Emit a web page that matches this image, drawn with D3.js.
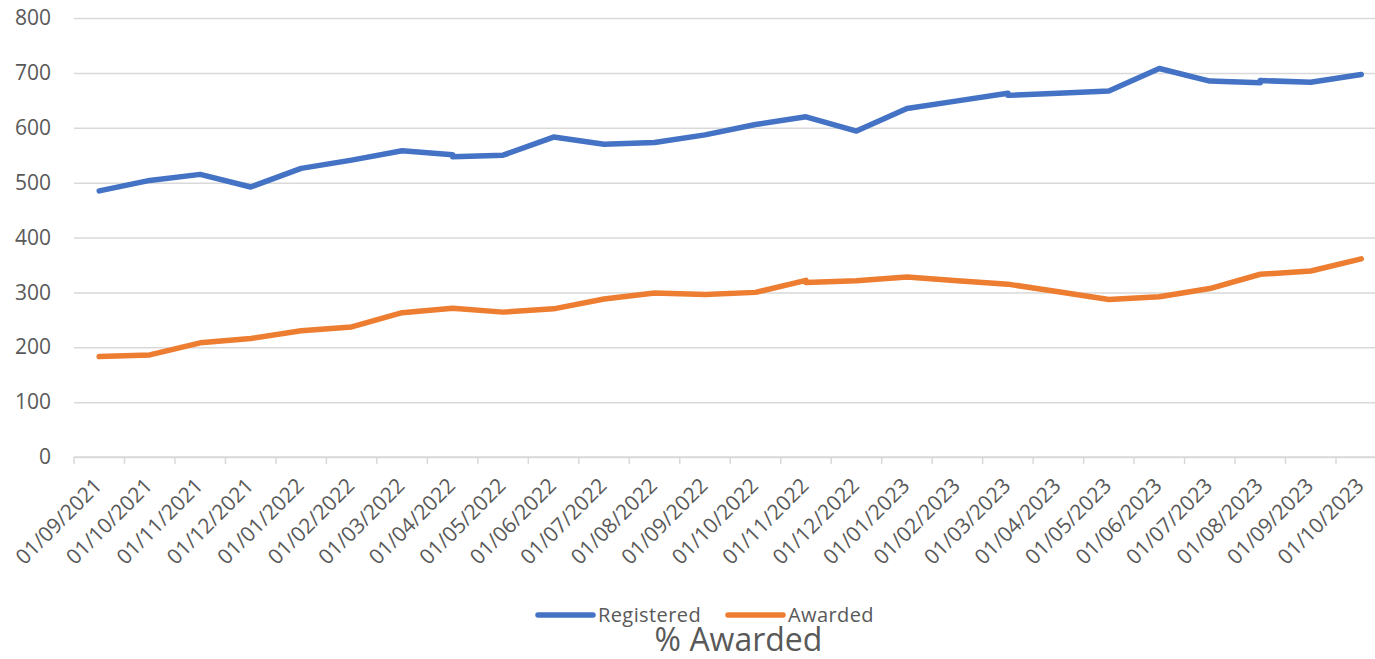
<!DOCTYPE html>
<html>
<head>
<meta charset="utf-8">
<script src="https://cdn.jsdelivr.net/npm/d3@7"></script>
<style>
  html, body { margin: 0; padding: 0; background: #fff; overflow: hidden; }
  svg { display: block; font-family: "Open Sans", sans-serif; }
</style>
</head>
<body>
<div id="chart"></div>
<script>
// month categories shown on the axis
const months = [
  "01/09/2021", "01/10/2021", "01/11/2021", "01/12/2021", "01/01/2022", "01/02/2022",
  "01/03/2022", "01/04/2022", "01/05/2022", "01/06/2022", "01/07/2022", "01/08/2022",
  "01/09/2022", "01/10/2022", "01/11/2022", "01/12/2022", "01/01/2023", "01/02/2023",
  "01/03/2023", "01/04/2023", "01/05/2023", "01/06/2023", "01/07/2023", "01/08/2023",
  "01/09/2023", "01/10/2023"
];

// data rows (some months have two entries)
const dates = [
  "01/09/2021", "01/10/2021", "01/11/2021", "01/12/2021", "01/01/2022", "01/02/2022",
  "01/03/2022", "01/04/2022", "01/04/2022", "01/05/2022", "01/06/2022", "01/07/2022",
  "01/08/2022", "01/09/2022", "01/10/2022", "01/11/2022", "01/11/2022", "01/12/2022",
  "01/01/2023", "01/02/2023", "01/03/2023", "01/03/2023", "01/04/2023", "01/05/2023",
  "01/06/2023", "01/07/2023", "01/08/2023", "01/08/2023", "01/09/2023", "01/10/2023"
];
const registered = [
  485, 504, 515, 492, 526, 541,
  558, 551, 547, 550, 583, 570,
  573, 587, 606, 620, 620, 594,
  635, 649, 663, 659, 663, 667,
  708, 685, 682, 686, 683, 697
];
const awarded = [
  183, 186, 208, 216, 230, 237,
  263, 271, 271, 264, 270, 288,
  299, 296, 300, 322, 318, 321,
  328, 321, 315, 315, 301, 287,
  292, 307, 333, 333, 339, 361
];
const yTicks = [0, 100, 200, 300, 400, 500, 600, 700, 800];

const seriesNames = ["Registered", "Awarded"];
const seriesColors = ["#4472C4", "#ED7D31"];
const title = "% Awarded";

const width = 1375, height = 659;
const plotLeft = 74, bandW = 50.48;
const plotRight = plotLeft + bandW * months.length;
const yTop = 18, yBottom = 457;

const svg = d3.select('#chart')
  .append('svg')
  .attr('width', width)
  .attr('height', height);

const x = d3.scaleBand()
  .domain(months)
  .range([plotLeft, plotRight])
  .padding(0);

const y = d3.scaleLinear()
  .domain([0, 800])
  .range([yBottom, yTop]);

// gridlines + y labels
const yAxis = d3.axisLeft(y)
  .tickValues(yTicks)
  .tickSize(-(plotRight - plotLeft))
  .tickPadding(23);

const gy = svg.append('g')
  .attr('transform', `translate(${plotLeft},0)`)
  .call(yAxis);
gy.select('.domain').remove();
gy.selectAll('line').attr('stroke', '#d9d9d9').attr('stroke-width', 1.5);
gy.selectAll('text')
  .attr('fill', '#595959')
  .style('font-size', '21px')
  .style('font-family', '"Open Sans", sans-serif');

// x axis line and ticks at category boundaries
const gx = svg.append('g').attr('class', 'x-axis');
gx.append('line')
  .attr('x1', plotLeft).attr('x2', plotRight)
  .attr('y1', yBottom).attr('y2', yBottom)
  .attr('stroke', '#d9d9d9').attr('stroke-width', 1.5);

const boundaries = months.map(m => x(m)).concat([plotRight]);
gx.selectAll('line.tick')
  .data(boundaries)
  .enter()
  .append('line')
  .attr('class', 'tick')
  .attr('x1', d => d).attr('x2', d => d)
  .attr('y1', yBottom).attr('y2', yBottom + 7)
  .attr('stroke', '#d9d9d9').attr('stroke-width', 1.5);

gx.selectAll('text')
  .data(months)
  .enter()
  .append('text')
  .attr('transform', d => `translate(${x(d) + x.bandwidth() / 2 + 4},${yBottom + 30}) rotate(-45)`)
  .attr('text-anchor', 'end')
  .attr('fill', '#595959')
  .style('font-size', '21px')
  .text(d => d);

// lines
const cx = d => x(d) + x.bandwidth() / 2;
const line = d3.line()
  .x(d => cx(d.date))
  .y(d => y(d.value));

[registered, awarded].forEach((vals, i) => {
  const pts = dates.map((d, j) => ({date: d, value: vals[j]}));
  svg.append('path')
    .datum(pts)
    .attr('fill', 'none')
    .attr('stroke', seriesColors[i])
    .attr('stroke-width', 5.5)
    .attr('stroke-linecap', 'round')
    .attr('stroke-linejoin', 'round')
    .attr('d', line);
});

// legend
const legendPos = [{lx: 538, tx: 598}, {lx: 728, tx: 788}];
const legend = svg.append('g').attr('class', 'legend');
seriesNames.forEach((name, i) => {
  legend.append('line')
    .attr('x1', legendPos[i].lx).attr('x2', legendPos[i].lx + 55)
    .attr('y1', 615).attr('y2', 615)
    .attr('stroke', seriesColors[i])
    .attr('stroke-width', 5.5)
    .attr('stroke-linecap', 'round');
  legend.append('text')
    .attr('x', legendPos[i].tx)
    .attr('y', 622)
    .attr('fill', '#595959')
    .style('font-size', '20px')
    .style('letter-spacing', '0.4px')
    .text(name);
});

// title (sits under the legend)
svg.append('text')
  .attr('x', 738.5)
  .attr('y', 651)
  .attr('text-anchor', 'middle')
  .attr('fill', '#595959')
  .style('font-size', '32px')
  .text(title);
</script>
</body>
</html>
